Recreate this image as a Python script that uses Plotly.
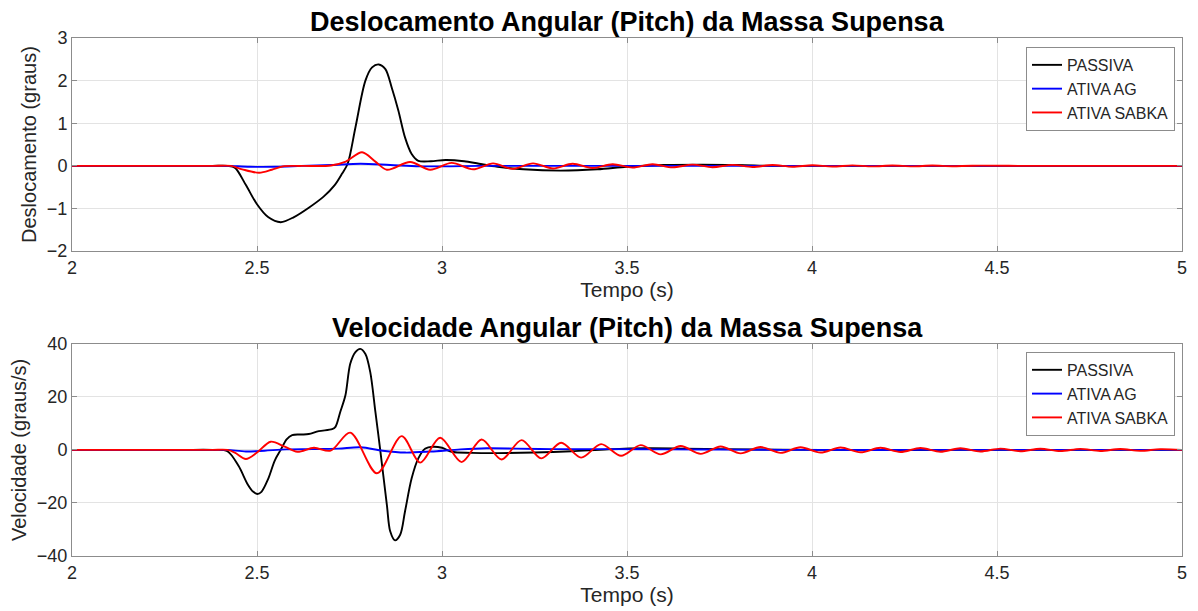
import plotly.graph_objects as go

# ---------------- data ----------------
# Top: angular displacement (graus)
t_desl_passiva = [2.0, 2.1, 2.2, 2.3, 2.38, 2.42, 2.44, 2.47, 2.50, 2.53, 2.564, 2.60, 2.64, 2.68,
                  2.71, 2.73, 2.745, 2.766, 2.793, 2.811, 2.829, 2.847, 2.864, 2.882, 2.90,
                  2.918, 2.936, 2.97, 3.01, 3.06, 3.10, 3.15, 3.22, 3.32, 3.42, 3.50, 3.60,
                  3.70, 3.80, 3.90, 4.0, 4.2, 4.4, 4.6, 4.8, 5.0]
y_desl_passiva = [0, 0, 0, 0, 0, 0, -0.04, -0.45, -0.90, -1.20, -1.32, -1.20, -0.98, -0.72,
                  -0.45, -0.18, 0.05, 0.90, 2.00, 2.31, 2.38, 2.27, 1.84, 1.30, 0.67,
                  0.28, 0.12, 0.11, 0.14, 0.11, 0.05, -0.02, -0.08, -0.11, -0.08, -0.02, 0.02,
                  0.03, 0.02, 0.0, 0.0, 0, 0, 0, 0, 0]

t_desl_ag = [2.0, 2.1, 2.2, 2.3, 2.38, 2.42, 2.48, 2.55, 2.62, 2.70, 2.78, 2.86, 2.94, 3.02,
             3.10, 3.3, 3.6, 4.0, 4.4, 4.8, 5.0]
y_desl_ag = [0, 0, 0, 0, 0, 0, -0.02, -0.02, 0.0, 0.02, 0.05, 0.02, -0.01, -0.01,
             0.0, 0.0, 0, 0, 0, 0, 0]

t_desl_sabka = [2.0, 2.1, 2.2, 2.3, 2.38, 2.43, 2.46, 2.506, 2.54, 2.57, 2.62, 2.70, 2.74,
                2.784, 2.82, 2.851, 2.914, 2.968, 3.026, 3.084, 3.138, 3.19, 3.246, 3.30,
                3.353, 3.407, 3.461, 3.515, 3.569, 3.623, 3.677, 3.731, 3.785, 3.839, 3.893,
                3.947, 4.001, 4.055, 4.109, 4.163, 4.217, 4.271, 4.325, 4.379, 4.433, 4.6,
                4.8, 5.0]
y_desl_sabka = [0, 0, 0, 0, 0, 0, -0.08, -0.16, -0.09, -0.01, 0.0, 0.01, 0.1,
                0.32, 0.1, -0.09, 0.09, -0.09, 0.07, -0.08, 0.06, -0.07, 0.06, -0.06,
                0.05, -0.05, 0.04, -0.04, 0.04, -0.035, 0.03, -0.03, 0.025, -0.025, 0.02,
                -0.02, 0.015, -0.015, 0.012, -0.012, 0.01, -0.01, 0.008, -0.008, 0.005, 0,
                0, 0]

# Bottom: angular velocity (graus/s)
t_vel_passiva = [2.0, 2.1, 2.2, 2.3, 2.38, 2.42, 2.45, 2.475, 2.49, 2.501, 2.512, 2.53, 2.548,
                 2.564, 2.58, 2.595, 2.62, 2.64, 2.667, 2.703, 2.712, 2.725, 2.739, 2.752,
                 2.766, 2.779, 2.793, 2.806, 2.820, 2.833, 2.851, 2.860, 2.873, 2.887, 2.900,
                 2.918, 2.936, 2.955, 2.975, 3.0, 3.026, 3.08, 3.15, 3.25, 3.35, 3.45, 3.55,
                 3.65, 3.75, 3.9, 4.1, 4.4, 4.7, 5.0]
y_vel_passiva = [0, 0, 0, 0, 0, -0.5, -6, -13, -15.8, -16.6, -15.8, -11, -4,
                 0, 4, 5.6, 5.8, 6.0, 7.1, 7.8, 8.7, 14.3, 20.6, 32.5,
                 36.9, 38.1, 36.2, 29.4, 14.3, 0, -20.7, -30.7, -34.1, -32.0, -23.2,
                 -10.7, -3.2, 0.5, 1.2, 0.8, -0.7, -1.1, -1.2, -1.0, -0.5, 0.2, 0.6,
                 0.5, 0.3, 0.1, 0, 0, 0, 0]

t_vel_ag = [2.0, 2.1, 2.2, 2.3, 2.38, 2.42, 2.47, 2.52, 2.58, 2.65, 2.72, 2.78, 2.84, 2.90,
            2.97, 3.05, 3.12, 3.2, 3.3, 3.45, 3.6, 3.8, 4.0, 4.3, 4.6, 5.0]
y_vel_ag = [0, 0, 0, 0, 0, 0, -0.6, -0.3, 0.2, 0.3, 0.5, 1.0, -0.3, -1.0,
            -0.6, 0.2, 0.6, 0.5, 0.3, 0.3, 0.2, 0.1, 0, 0, 0, 0]

t_vel_sabka = [2.0, 2.1, 2.2, 2.3, 2.38, 2.42, 2.44, 2.47, 2.50, 2.537, 2.575, 2.609, 2.654,
               2.699, 2.752, 2.824, 2.891, 2.941, 2.995, 3.053, 3.107, 3.161, 3.215, 3.268,
               3.322, 3.376, 3.430, 3.484, 3.537, 3.591, 3.645, 3.699, 3.753, 3.807, 3.861,
               3.915, 3.969, 4.023, 4.077, 4.131, 4.185, 4.239, 4.293, 4.347, 4.401, 4.455,
               4.509, 4.563, 4.617, 4.671, 4.725, 4.779, 4.833, 4.887, 4.941, 5.0]
y_vel_sabka = [0, 0, 0, 0, 0, 0, -1.0, -3.4, -1.0, 3.1, 1.2, -0.7, 0.8,
               -0.3, 6.5, -8.8, 5.2, -4.8, 4.6, -4.6, 3.9, -3.6, 3.7, -3.2,
               2.7, -2.9, 2.2, -2.2, 1.8, -1.7, 1.5, -1.5, 1.3, -1.3, 1.1,
               -1.1, 1.0, -1.0, 0.9, -0.9, 0.8, -0.8, 0.7, -0.7, 0.6, -0.6,
               0.5, -0.5, 0.45, -0.45, 0.4, -0.4, 0.35, -0.35, 0.3, 0.0]

series_names = ["PASSIVA", "ATIVA AG", "ATIVA SABKA"]
series_colors = ["#000000", "#0000ff", "#ff0000"]

x_tick_vals = [2, 2.5, 3, 3.5, 4, 4.5, 5]
x_tick_text = ["2", "2.5", "3", "3.5", "4", "4.5", "5"]
y1_tick_vals = [-2, -1, 0, 1, 2, 3]
y2_tick_vals = [-40, -20, 0, 20, 40]

title_top = "Deslocamento Angular (Pitch) da Massa Supensa"
title_bottom = "Velocidade Angular (Pitch) da Massa Supensa"

# ---------------- figure ----------------
FONT = "Liberation Sans, Arial, sans-serif"
fig = go.Figure()

top = [(t_desl_passiva, y_desl_passiva), (t_desl_ag, y_desl_ag), (t_desl_sabka, y_desl_sabka)]
bot = [(t_vel_passiva, y_vel_passiva), (t_vel_ag, y_vel_ag), (t_vel_sabka, y_vel_sabka)]

for (tx, ty), name, col in zip(top, series_names, series_colors):
    fig.add_trace(go.Scatter(x=tx, y=ty, mode="lines", name=name,
                             line=dict(color=col, width=1.9, shape="spline", smoothing=0.9),
                             xaxis="x", yaxis="y", legend="legend"))
for (tx, ty), name, col in zip(bot, series_names, series_colors):
    fig.add_trace(go.Scatter(x=tx, y=ty, mode="lines", name=name,
                             line=dict(color=col, width=1.9, shape="spline", smoothing=0.9),
                             xaxis="x2", yaxis="y2", legend="legend2"))

axis_common = dict(showline=True, linecolor="#8c8c8c", linewidth=1, mirror="ticks",
                   ticks="inside", ticklen=5, tickcolor="#8c8c8c",
                   showgrid=True, gridcolor="#e3e3e3", gridwidth=1, zeroline=False,
                   tickfont=dict(family=FONT, size=18, color="#262626"))

top_dom = [(558 - 252) / 520, 1.0]
bot_dom = [0.0, (558 - 345) / 520]

xtitle_font = dict(family=FONT, size=21, color="#262626")
ytitle_font = dict(family=FONT, size=20, color="#262626")

fig.update_layout(
    width=1198, height=611,
    margin=dict(l=72, r=11, t=38, b=53),
    paper_bgcolor="white", plot_bgcolor="white",
    xaxis=dict(domain=[0, 1], anchor="y", range=[2, 5], tickvals=x_tick_vals,
               ticktext=x_tick_text,
               title=dict(text="Tempo (s)", font=xtitle_font, standoff=3),
               **axis_common),
    yaxis=dict(domain=top_dom, anchor="x", range=[-2, 3], tickvals=y1_tick_vals,
               title=dict(text="Deslocamento (graus)", font=ytitle_font, standoff=4),
               **axis_common),
    xaxis2=dict(domain=[0, 1], anchor="y2", range=[2, 5], tickvals=x_tick_vals,
                ticktext=x_tick_text,
                title=dict(text="Tempo (s)", font=xtitle_font, standoff=3),
                **axis_common),
    yaxis2=dict(domain=bot_dom, anchor="x2", range=[-40, 40], tickvals=y2_tick_vals,
                title=dict(text="Velocidade (graus/s)", font=ytitle_font, standoff=4),
                **axis_common),
    legend=dict(x=0.9937, y=0.9827, xanchor="right", yanchor="top",
                bgcolor="white", bordercolor="#8c8c8c", borderwidth=1,
                font=dict(family=FONT, size=16, color="#262626"),
                tracegroupgap=0, itemwidth=30),
    legend2=dict(x=0.9937, y=0.394, xanchor="right", yanchor="top",
                 bgcolor="white", bordercolor="#8c8c8c", borderwidth=1,
                 font=dict(family=FONT, size=16, color="#262626"),
                 tracegroupgap=0, itemwidth=30),
    annotations=[
        dict(text="<b>" + title_top + "</b>", xref="paper", yref="paper", x=0.5, y=1.0,
             yshift=-1, xanchor="center", yanchor="bottom", showarrow=False,
             font=dict(family=FONT, size=27, color="#000000")),
        dict(text="<b>" + title_bottom + "</b>", xref="paper", yref="paper", x=0.5,
             y=bot_dom[1], yshift=-1, xanchor="center", yanchor="bottom", showarrow=False,
             font=dict(family=FONT, size=27, color="#000000")),
    ],
    showlegend=True,
)

fig.write_html("out.html")
